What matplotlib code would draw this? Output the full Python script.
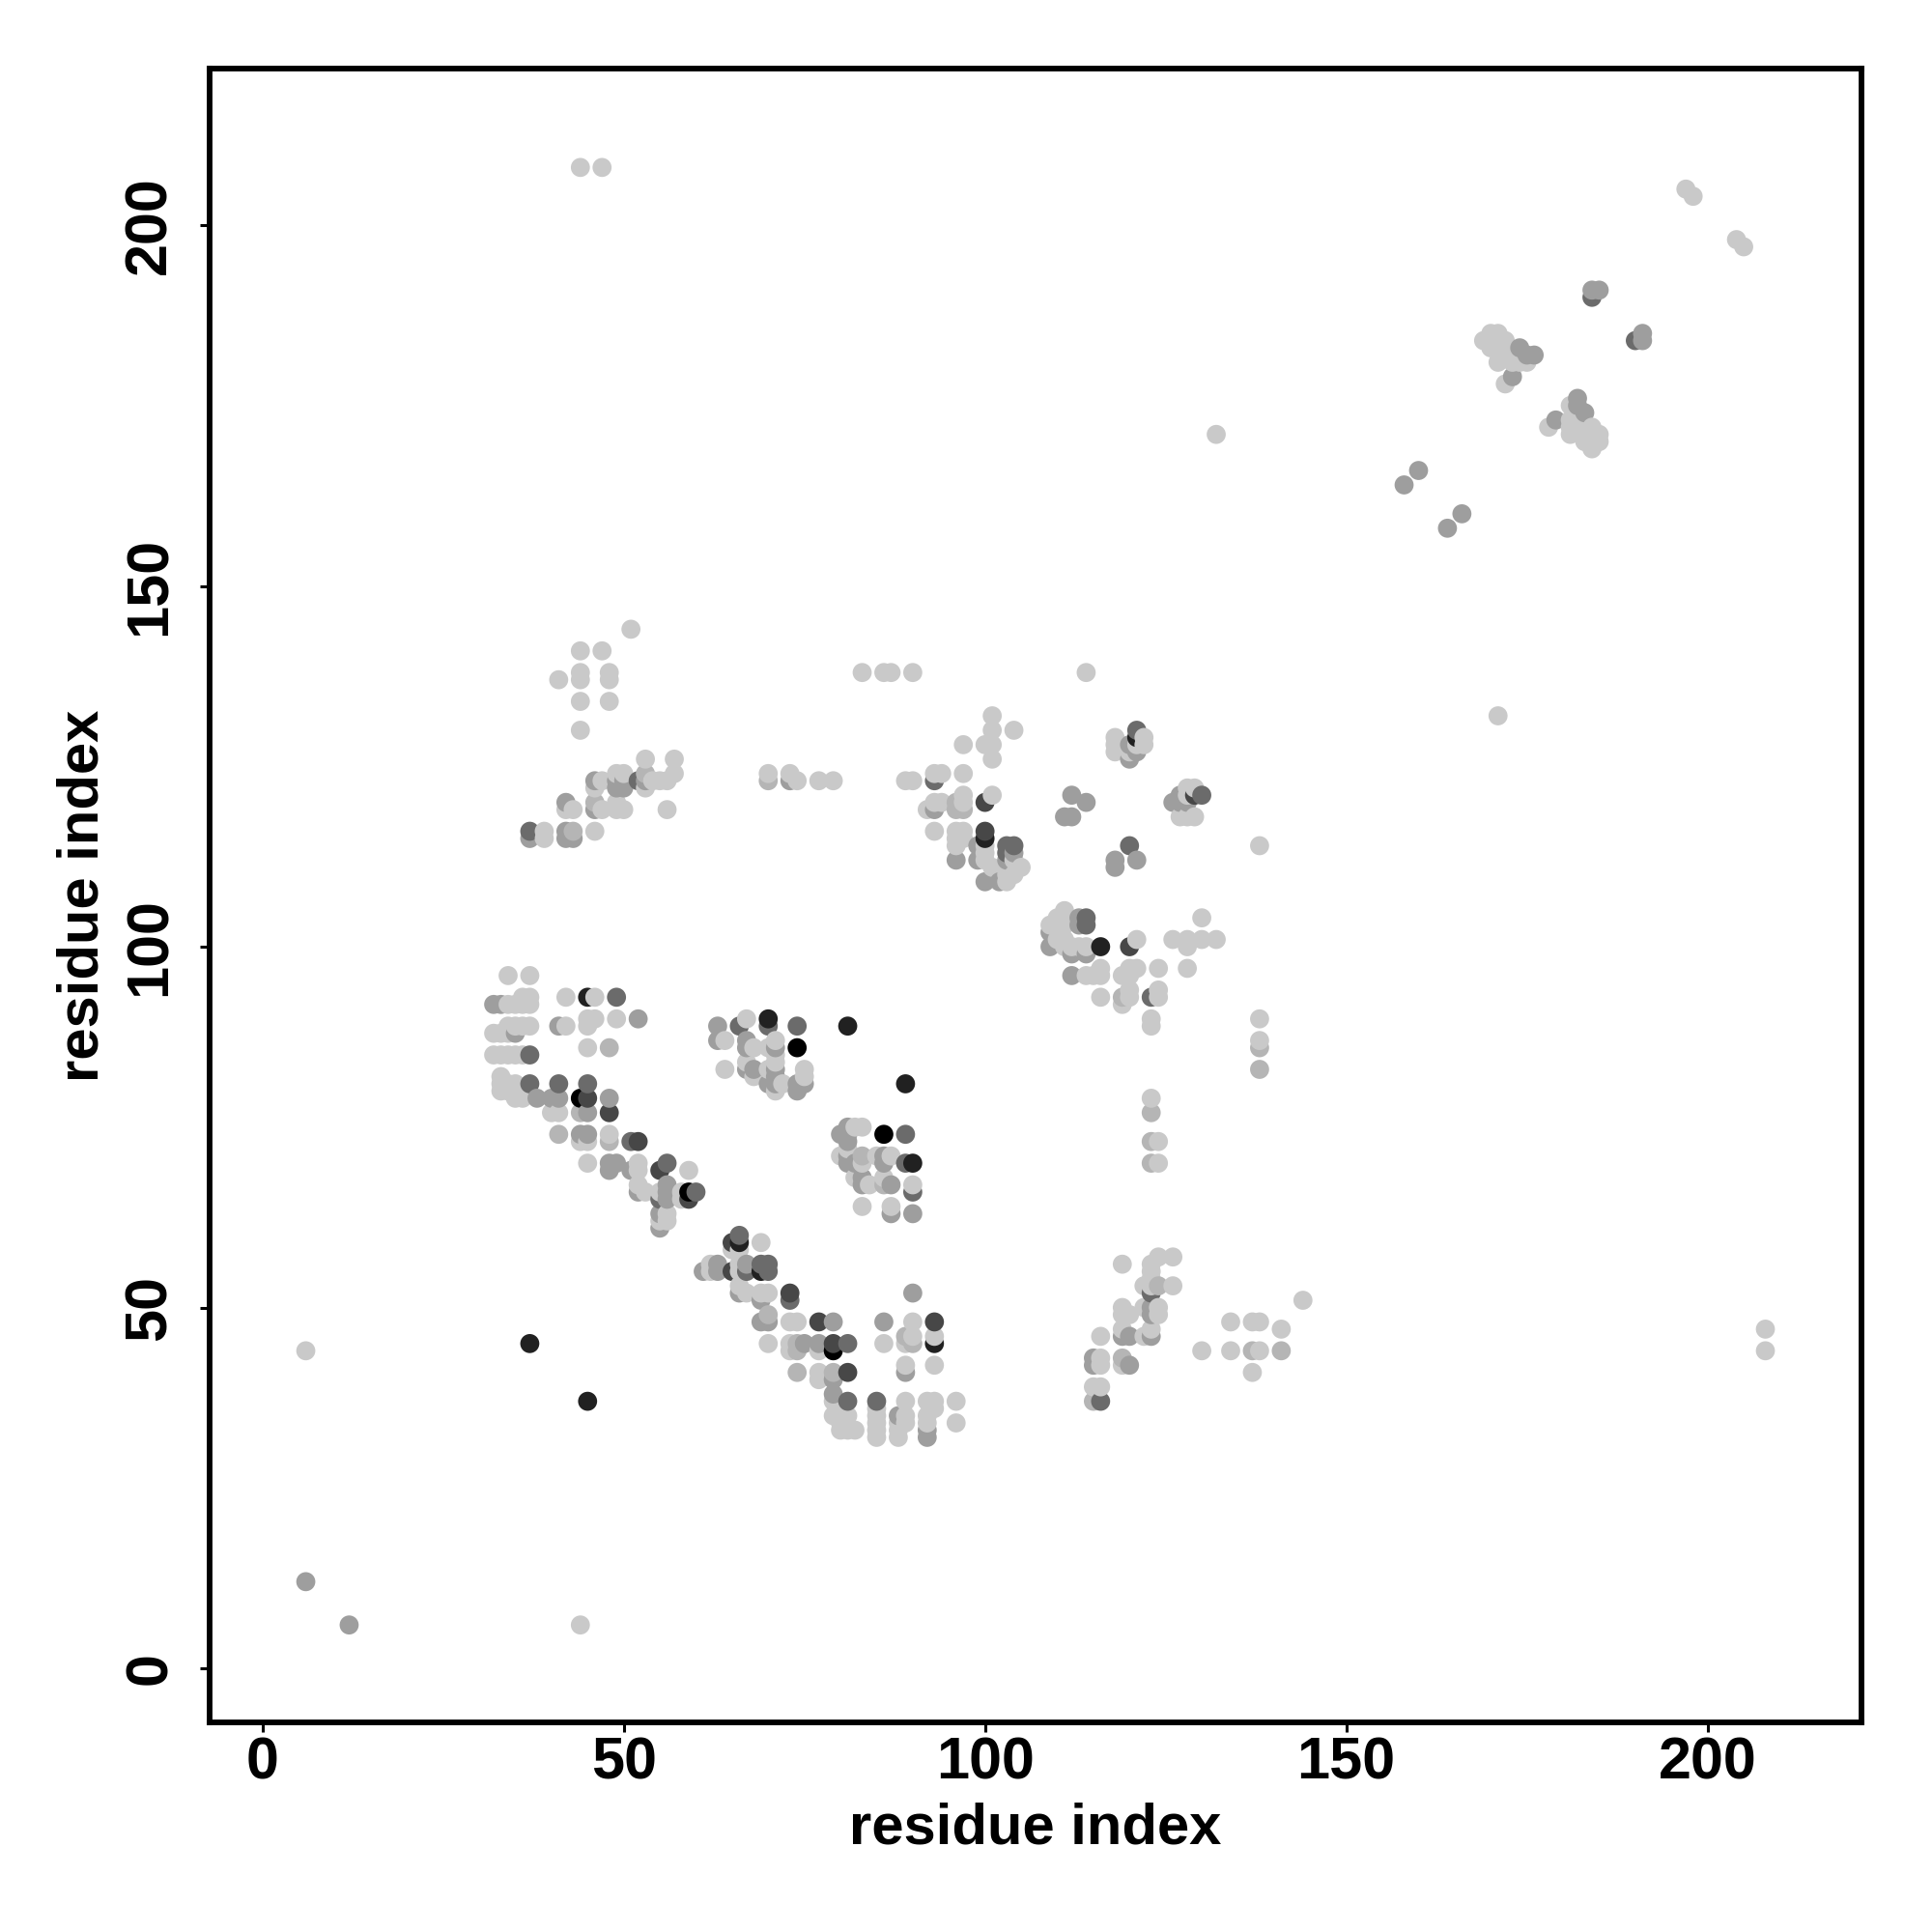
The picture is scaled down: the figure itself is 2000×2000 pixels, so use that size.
import numpy as np
import matplotlib
matplotlib.use("Agg")
import matplotlib.pyplot as plt

plt.rcParams['font.family'] = ['Liberation Sans', 'DejaVu Sans']

# contacts (residue i, residue j), one list per grey level
light = [
 (6,44),(44,6),(44,208),(47,208),(208,47),(208,44),(132,171),(171,132),(197,205),(198,204),(204,198),(205,197),
 (34,96),(37,96),(42,93),(46,93),(36,93),(37,93),(34,92),(35,92),(36,92),(37,92),(45,90),(46,90),(49,90),
 (34,89),(35,89),(36,89),(37,89),(42,89),(45,89),(32,88),(33,88),(34,88),(45,86),
 (32,85),(33,85),(34,85),(35,85),(36,85),(33,82),(33,81),(34,81),(35,81),(33,80),(34,80),(35,80),
 (35,79),(36,79),(40,77),(41,77),(48,74),(44,73),(45,73),(45,70),(52,70),(52,69),(59,69),(52,67),
 (53,66),(55,66),(58,66),(58,65),(56,63),(55,62),(56,62),
 (67,90),(64,87),(71,87),(68,86),(70,86),(71,85),(67,84),(71,84),(64,83),(70,83),(75,83),(68,82),(75,82),(72,81),(71,80),
 (82,75),(83,75),(81,72),(80,71),(85,71),(87,71),(83,70),(82,68),(86,68),(84,67),(90,67),(83,64),(87,64),
 (69,59),(65,58),(66,58),(62,56),(66,56),(62,55),(66,55),(66,53),(67,52),(69,52),(70,52),
 (70,45),(73,48),(74,48),(90,48),(73,45),(86,45),(89,45),(90,46),(93,46),(73,44),(77,44),(77,41),(89,42),(93,42),(77,40),
 (79,37),(89,37),(92,37),(93,37),(96,37),(85,36),(93,36),(79,35),(80,35),(81,35),(85,35),(89,35),(92,35),
 (80,34),(85,34),(88,34),(89,34),(92,34),(96,34),(80,33),(81,33),(82,33),(85,33),(88,33),(85,32),(88,32),
 (51,144),(44,141),(47,141),(44,138),(48,138),(41,137),(44,137),(48,137),(44,134),(48,134),(44,130),
 (53,126),(57,126),(49,124),(50,124),(57,124),(47,123),(54,123),(55,123),(56,123),(46,122),(53,122),
 (49,120),(42,119),(43,119),(47,119),(49,119),(50,119),(56,119),(39,116),(46,116),(39,115),
 (70,124),(73,124),(74,123),(77,123),(79,123),(83,138),(86,138),(87,138),(90,138),(114,138),
 (89,123),(90,123),(93,124),(94,124),(97,124),(97,128),(100,128),(101,128),(101,132),(101,130),(104,130),(101,126),
 (97,121),(101,121),(93,120),(94,120),(97,120),(92,119),(93,116),(96,116),(97,116),(96,115),(97,115),(100,115),
 (96,114),(100,114),(100,113),(100,112),(101,111),(104,112),(105,111),(104,110),(103,110),(103,109),
 (118,129),(118,128),(118,127),(122,129),(122,128),(121,128),(120,127),
 (128,122),(129,122),(128,121),(127,118),(128,118),(129,118),(138,114),
 (111,105),(109,103),(110,104),(111,103),(110,101),(111,101),(111,100),(112,100),(113,100),(114,100),(121,101),
 (114,96),(115,96),(116,97),(116,96),(119,96),(120,97),(121,97),(120,96),(124,97),(128,97),(116,93),(119,92),
 (120,94),(120,93),(124,94),(124,93),(123,90),(123,89),(138,90),(138,87),(130,104),(126,101),(128,101),(128,100),(130,101),(132,101),
 (123,79),(124,73),(124,70),(119,56),(123,56),(124,57),(126,57),(123,55),(123,54),(122,53),(123,53),(126,53),
 (122,50),(124,50),(124,49),(119,50),(119,49),(120,49),(119,47),(123,47),(122,46),(116,46),(116,43),(116,42),(119,42),
 (115,39),(116,39),(130,44),(134,48),(134,44),(137,48),(138,48),(141,47),(138,44),(137,41),(144,51),
 (169,184),(170,185),(171,185),(170,184),(171,184),(172,184),(170,183),(171,183),(172,183),(171,181),(172,182),(173,182),
 (173,181),(174,181),(175,181),(172,178),(181,175),(178,172),(181,173),(181,172),(181,171),(182,172),(183,172),(184,172),
 (183,171),(184,171),(185,171),(183,170),(184,170),(185,170),(184,169),
]
midlight = [
 (44,77),(41,74),(48,73),(97,119),(96,120),(96,119),(86,67),(138,86),(138,83),(123,77),(123,73),(123,70),(124,53),
 (119,43),(115,37),(137,44),(141,44),(70,49),(70,123),(53,124),(46,120),(43,116),(119,93),(48,86),(81,71),(83,71),
 (74,44),(74,41),(79,41),(89,46),(90,45),(74,45),(69,56),
]
mid = [
 (6,12),(12,6),(32,92),(33,92),(41,89),(35,88),(52,90),(38,79),(40,79),(41,79),(48,79),(45,77),(44,74),(45,74),
 (48,70),(49,70),(48,69),(51,69),(56,67),(52,66),(56,66),(56,65),(55,63),(55,61),
 (63,89),(63,87),(67,87),(67,86),(71,86),(67,83),(68,83),(71,83),(71,82),(70,81),(71,81),(74,81),(75,81),(74,80),
 (81,75),(80,74),(81,74),(81,73),(81,71),(86,71),(81,70),(82,70),(86,70),(83,68),(83,67),(87,67),(87,63),(90,63),
 (61,55),(63,55),(63,56),(67,56),(69,51),(66,52),(70,48),(69,48),(79,48),(86,48),(90,52),(77,45),(75,45),(79,40),(79,38),
 (88,35),(92,33),(92,32),(89,41),
 (46,123),(49,123),(50,123),(53,123),(49,122),(50,122),(42,120),(46,119),(42,115),(43,115),(37,115),(42,116),(73,123),
 (93,119),(96,112),(99,114),(99,112),(100,109),(102,109),(103,112),(104,113),
 (120,128),(121,127),(120,126),(112,121),(114,120),(111,118),(112,118),(127,121),(126,120),(127,120),(128,120),(118,112),(118,111),(121,112),
 (113,104),(113,103),(109,102),(109,100),(112,99),(114,99),(112,96),
 (123,50),(123,49),(123,46),(119,46),(120,46),(115,43),(115,42),(120,42),
 (174,183),(175,182),(176,182),(173,179),(182,176),(182,175),(183,174),(179,173),(184,191),(185,191),(191,185),(191,184),(160,166),(158,164),(164,158),(166,160),
]
darkmid = [
 (37,81),(37,85),(41,81),(45,81),(49,93),(56,70),(60,66),(55,65),(66,89),(74,89),(70,89),(89,74),(89,70),(90,66),
 (66,60),(93,123),(121,130),(114,104),(114,103),(103,114),(104,114),(103,113),(120,114),(123,93),(123,52),(130,121),
 (116,37),(184,190),(190,184),(81,41),(81,37),(85,37),(81,45),(67,55),(70,55),(69,56),(70,56),(51,73),(73,51),(37,116),(52,123),
]
dark = [
 (45,79),(48,77),(65,59),(52,73),(55,69),(59,65),(73,52),(77,48),(79,45),(65,55),(93,48),(81,41),(100,120),(100,116),(120,100),(129,121),
]
verydark = [
 (45,93),(37,45),(45,37),(70,90),(81,89),(89,81),(90,70),(66,59),(69,55),(116,100),(121,129),(100,115),(93,45),
]
black = [
 (44,79),(74,86),(86,74),(59,66),(79,44),
]
grey_levels = [0.79, 0.71, 0.62, 0.42, 0.28, 0.13, 0.0]
groups = [light, midlight, mid, darkmid, dark, verydark, black]
xticks = [0, 50, 100, 150, 200]
yticks = [0, 50, 100, 150, 200]

# later residue i drawn on top, then larger j
rows = {}
for grey, group in zip(grey_levels, groups):
    for pair in group:
        rows[pair] = grey
pairs = sorted(rows)
xs = [p[0] for p in pairs]
ys = [p[1] for p in pairs]
cols = [str(rows[p]) for p in pairs]

fig = plt.figure(figsize=(10, 10), dpi=200)
ax = fig.add_axes([217/2000, 1-1783/2000, 1710/2000, 1712/2000])
ax.scatter(xs, ys, s=7.1**2, c=cols, linewidths=0, zorder=2)
ax.set_xlim(-7.31, 221.3)
ax.set_ylim(-7.5, 221.7)
ax.set_xticks(xticks)
ax.set_yticks(yticks)
for s in ax.spines.values():
    s.set_linewidth(2.1)
ax.tick_params(length=3.6, width=1.1, labelsize=22)
ax.tick_params(axis='x', pad=1.5)
ax.tick_params(axis='y', pad=8)
for t in ax.get_xticklabels():
    t.set_fontweight('bold')
for t in ax.get_yticklabels():
    t.set_fontweight('bold')
    t.set_rotation(90)
    t.set_va('center')
ax.set_xlabel('residue index', fontsize=21.5, fontweight='bold', labelpad=4)
ax.set_ylabel('residue index', fontsize=21.5, fontweight='bold', labelpad=5)
fig.savefig('out.png', dpi=200, facecolor='white')
